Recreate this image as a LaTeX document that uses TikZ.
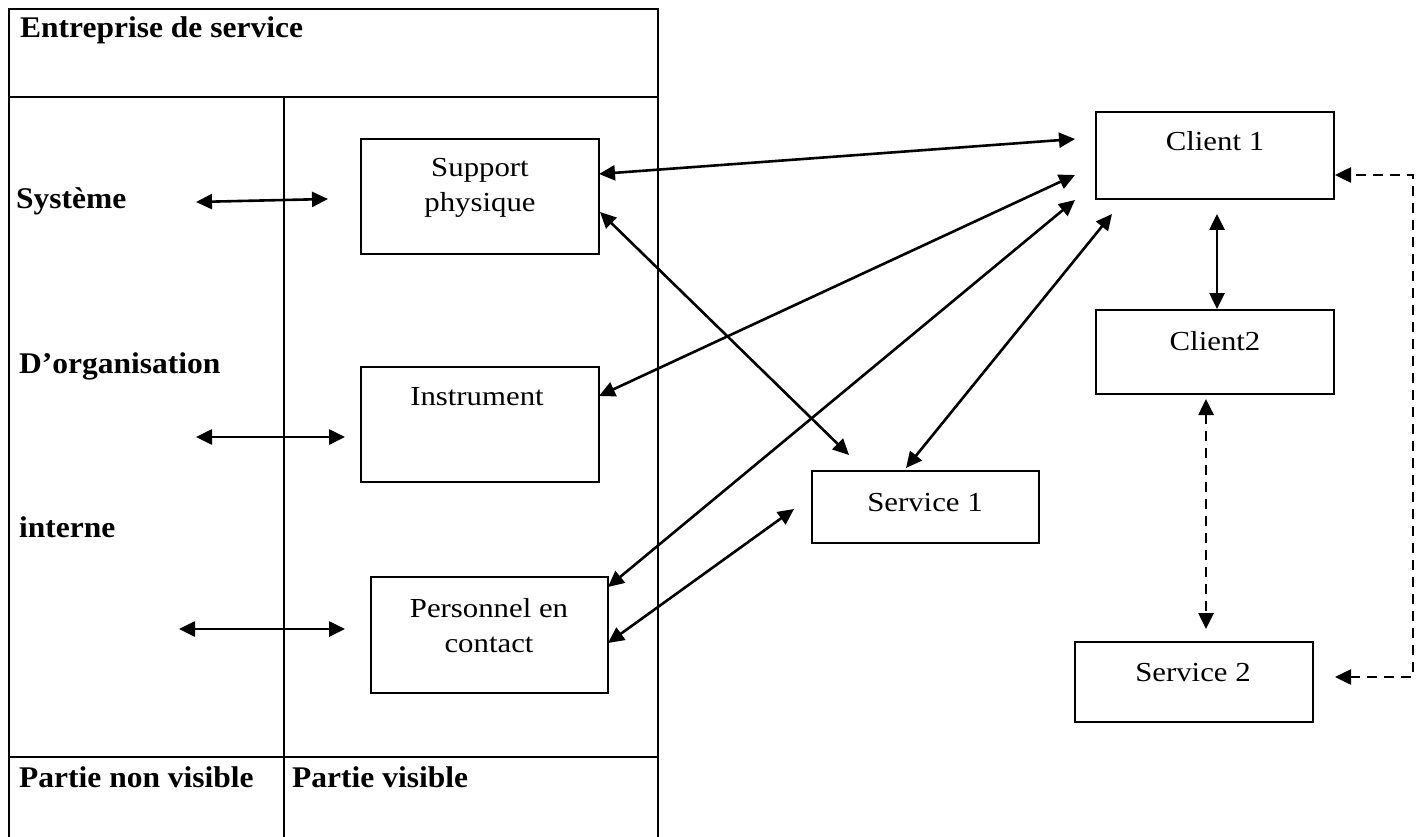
\documentclass[tikz,border=0pt]{standalone}
\usepackage{fontspec}
\setmainfont{Liberation Serif}
\newfontfamily\headfont{Liberation Serif}[FakeStretch=1.05]
\newfontfamily\boxfont{Liberation Serif}[FakeStretch=1.12]
\usetikzlibrary{arrows.meta}

\begin{document}
\begin{tikzpicture}[x=1pt,y=-1pt,
  rule/.style={line width=2.2pt},
  box/.style={draw, line width=2pt, inner sep=0pt},
  head/.style={font=\headfont\bfseries\fontsize{30}{36}\selectfont, anchor=base west, inner sep=0pt},
  txt/.style={font=\boxfont\fontsize{27.5}{34}\selectfont, anchor=base, inner sep=0pt},
  tip/.tip={Triangle[length=16pt,width=15pt]},
  link/.style={line width=2.6pt, tip-tip},
  dlink/.style={link, dash pattern=on 10pt off 7pt},
]
\useasboundingbox (0,0) rectangle (1422,837);

% table of the service company
\draw[rule] (9,837) -- (9,9) -- (658,9) -- (658,837);
\draw[rule] (9,97) -- (658,97);
\draw[rule] (9,757) -- (658,757);
\draw[rule] (284,97) -- (284,837);

\node[head] (title) at (20,38) {Entreprise de service};
\node[head] (sys) at (16,209) {Système};
\node[head] (org) at (19,373) {D’organisation};
\node[head] (int) at (19,537) {interne};
\node[head] (hidden) at (19,787) {Partie non visible};
\node[head] (shown) at (292,787) {Partie visible};

% boxes
\node[box, minimum width=238pt, minimum height=115pt] (sp) at (480,196.5) {};
\node[box, minimum width=238pt, minimum height=115pt] (inst) at (480,424.5) {};
\node[box, minimum width=237pt, minimum height=116pt] (pc) at (489.5,635) {};
\node[box, minimum width=227pt, minimum height=72pt] (s1) at (925.5,507) {};
\node[box, minimum width=238pt, minimum height=87pt] (c1) at (1215,155.5) {};
\node[box, minimum width=238pt, minimum height=84pt] (c2) at (1215,352) {};
\node[box, minimum width=238pt, minimum height=80pt] (s2) at (1194,682) {};

\node[txt] (spa) at (480,177) {Support};
\node[txt] (spb) at (480,212) {physique};
\node[txt] (insta) at (477,405) {Instrument};
\node[txt] (pca) at (489,617) {Personnel en};
\node[txt] (pcb) at (489,652) {contact};
\node[txt] (s1a) at (925,511) {Service 1};
\node[txt] (c1a) at (1215,151) {Client 1};
\node[txt] (c2a) at (1215,350) {Client2};
\node[txt] (s2a) at (1193,681) {Service 2};

% arrow end points
\coordinate (sysL) at (196,202);
\coordinate (sysR) at (328,199);
\coordinate (orgL) at (196,437);
\coordinate (orgR) at (345,437);
\coordinate (intL) at (179,629);
\coordinate (intR) at (345,629);
\coordinate (spE1) at (599,174);
\coordinate (spE2) at (600,212);
\coordinate (instE) at (599,396);
\coordinate (pcE1) at (608,587);
\coordinate (pcE2) at (608,643);
\coordinate (c1W1) at (1075,139);
\coordinate (c1W2) at (1075,175);
\coordinate (c1W3) at (1075,200);
\coordinate (c1W4) at (1112,214);
\coordinate (s1NW) at (849,455);
\coordinate (s1N) at (906,468);
\coordinate (s1W) at (794,509);
\coordinate (c1S) at (1217,214);
\coordinate (c2N) at (1217,309);
\coordinate (c2S) at (1206,399);
\coordinate (s2N) at (1206,629);
\coordinate (c1E) at (1335,175);
\coordinate (s2E) at (1335,677);
\coordinate (loopT) at (1413,175);
\coordinate (loopB) at (1413,677);

% solid links
\draw[link] (sysL) -- (sysR);
\draw[link] (orgL) -- (orgR);
\draw[link] (intL) -- (intR);
\draw[link] (spE1) -- (c1W1);
\draw[link] (spE2) -- (s1NW);
\draw[link] (instE) -- (c1W2);
\draw[link] (pcE1) -- (c1W3);
\draw[link] (pcE2) -- (s1W);
\draw[link] (s1N) -- (c1W4);
\draw[link] (c1S) -- (c2N);

% dashed links
\draw[dlink] (c2S) -- (s2N);
\draw[dlink] (s2E) -- (loopB) -- (loopT) -- (c1E);
\end{tikzpicture}
\end{document}
